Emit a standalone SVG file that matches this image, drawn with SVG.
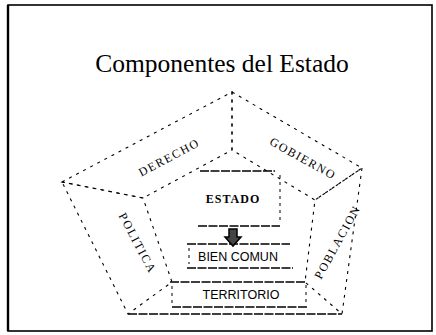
<svg xmlns="http://www.w3.org/2000/svg" width="436" height="335" viewBox="0 0 436 335">
<style>
.band{fill:none;stroke:#000;stroke-width:1.1;stroke-dasharray:3 5}
.lbl{font-family:"Liberation Serif",serif;font-size:12px;letter-spacing:1.5px;fill:#000;text-anchor:middle}
.box{stroke:#000;stroke-width:1.4;stroke-dasharray:9 1.5}
.side{stroke:#000;stroke-width:1;stroke-dasharray:3 4}
.sans{font-family:"Liberation Sans",Arial,sans-serif;font-size:12.5px;fill:#000;text-anchor:middle}
</style>
<rect width="436" height="335" fill="#fff"/>
<g id="frame">
<rect x="8" y="5" width="424" height="326" fill="none" stroke="#000" stroke-width="1.6"/>
<line x1="8" y1="5" x2="8" y2="331" stroke="#000" stroke-width="2.4"/>
</g>
<text id="title" x="222" y="72" font-family="Liberation Serif,serif" font-size="25.5" text-anchor="middle" fill="#000">Componentes del Estado</text>
<g id="derecho">
<polygon class="band" points="62,182 232,92 232,150 143,198"/>
<text class="lbl" transform="translate(171,161) rotate(-28)">DERECHO</text>
</g>
<g id="gobierno">
<polygon class="band" points="232,92 362,168 315,200 232,150"/>
<text class="lbl" transform="translate(301,162) rotate(29)">GOBIERNO</text>
</g>
<g id="poblacion">
<polygon class="band" points="362,168 342,314 305,282 315,200"/>
<text class="lbl" transform="translate(341,244) rotate(-61)">POBLACION</text>
</g>
<g id="politica">
<polygon class="band" points="62,182 143,198 172,282 128,314"/>
<text class="lbl" transform="translate(134,245) rotate(62)">POLITICA</text>
</g>
<g id="territorio">
<line class="box" x1="128" y1="314" x2="342" y2="314"/>
<line class="box" x1="170" y1="282" x2="305" y2="282"/>
<line class="box" x1="172" y1="307" x2="307" y2="307"/>
<line class="side" x1="306" y1="285" x2="306" y2="302"/>
<line class="side" x1="172" y1="286" x2="172" y2="304"/>
<text class="sans" x="241" y="299">TERRITORIO</text>
</g>
<g id="estado">
<line class="box" x1="200" y1="171" x2="275" y2="171"/>
<line class="box" x1="198" y1="226" x2="280" y2="226"/>
<line class="side" x1="280" y1="175" x2="280" y2="222"/>
<text x="233" y="203" font-family="Liberation Serif,serif" font-size="12" font-weight="bold" letter-spacing="1" text-anchor="middle" fill="#000">ESTADO</text>
</g>
<g id="bien-comun">
<line class="box" x1="187" y1="244" x2="290" y2="244"/>
<line class="box" x1="187" y1="268" x2="293" y2="268"/>
<line class="side" x1="189" y1="248" x2="189" y2="264"/>
<text class="sans" x="238" y="261">BIEN COMUN</text>
</g>
<g id="connectors">
<polygon points="229,229 237,229 237,237 241,237 233,246 225,237 229,237" fill="#444" stroke="#000" stroke-width="1.5"/>
</g>
</svg>
